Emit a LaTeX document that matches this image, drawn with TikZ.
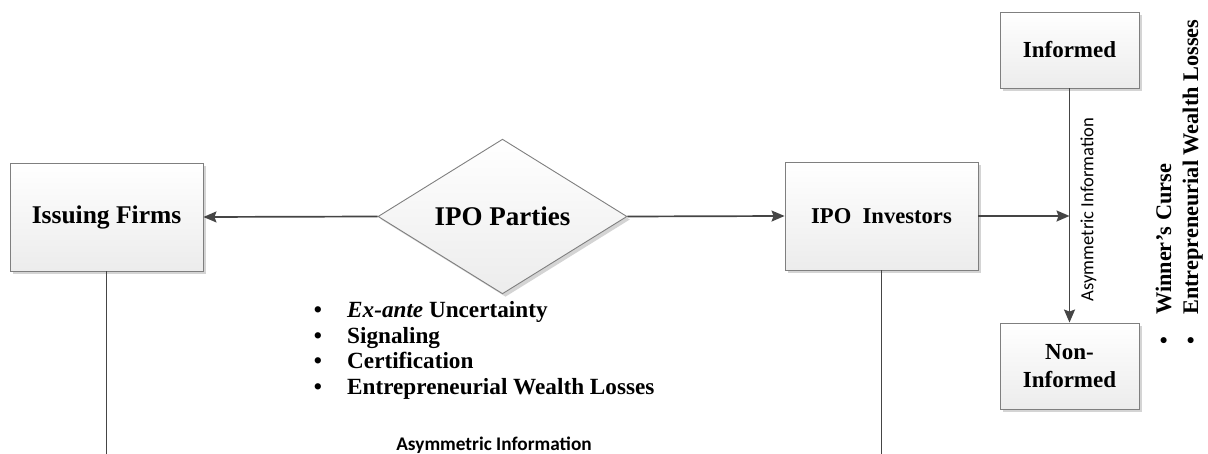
\documentclass[tikz,border=0pt]{standalone}
\usepackage{fontspec}
\setmainfont{Liberation Serif}
\newfontfamily\labelfont{Carlito}
\usetikzlibrary{arrows.meta,shapes.geometric,shadows,calc}

\definecolor{edgegray}{HTML}{7F7F7F}
\definecolor{fillbottom}{HTML}{ECECEC}
\definecolor{shadowgray}{HTML}{D4D4D4}
\definecolor{linkgray}{HTML}{454545}

\newcommand{\fsz}[1]{\fontsize{#1pt}{1.15\dimexpr #1pt\relax}\selectfont}

\tikzset{
  shaded/.style={draw=edgegray, line width=0.9pt, top color=white, bottom color=fillbottom,
    drop shadow={shadow xshift=3pt, shadow yshift=-3pt, fill=shadowgray, opacity=1}},
  boxnode/.style={shaded, rectangle, inner sep=0pt, align=center,
    font=\bfseries\fsz{23}},
  link/.style={draw=linkgray, line width=1.7pt},
  arrowlink/.style={link, -{Stealth[length=13pt, width=11pt, inset=2pt]}},
  itemtext/.style={anchor=base west, inner sep=0pt, font=\bfseries\fsz{23.2}},
  itembullet/.style={anchor=base, inner sep=0pt, font=\bfseries\fsz{23.2}},
  sidetext/.style={rotate=90, anchor=base west, inner sep=0pt, font=\bfseries\fsz{22.3}},
  sidebullet/.style={rotate=90, anchor=base, inner sep=0pt, font=\bfseries\fsz{22.3}},
}

\begin{document}
\begin{tikzpicture}[x=1pt, y=-1pt]
\useasboundingbox (0,0) rectangle (1208,454);

% main parties
\node[boxnode, minimum width=193pt, minimum height=108pt, font=\bfseries\fsz{25.5}]
  (issuing) at (106.5,217) {Issuing Firms};
\node[shaded, diamond, inner sep=0pt, minimum width=249pt, minimum height=127pt,
  font=\bfseries\fsz{27}] (parties) at (502.5,216.5) {IPO Parties};
\node[boxnode, minimum width=193pt, minimum height=108pt, font=\bfseries\fsz{22.6}]
  (investors) at (881.5,216) {IPO\ \ Investors};

% investor classes
\node[boxnode, minimum width=139pt, minimum height=76pt] (informed) at (1069.5,50) {Informed};
\node[boxnode, minimum width=139pt, minimum height=86pt] (noninformed) at (1069.5,366)
  {Non-\\[1pt]Informed};

% connectors
\draw[arrowlink] (parties.west) -- (issuing.east);
\draw[arrowlink] (parties.east) -- (investors.west);
\draw[arrowlink] (informed.south) -- (noninformed.north);
\coordinate (junction) at (1069.5,216);
\draw[arrowlink] (investors.east) -- (junction);

% information gap between firms and investors
\coordinate (lowleft) at (106.5,455.5);
\coordinate (lowright) at (881.5,455.5);
\draw[link] (issuing.south) -- (lowleft) -- (lowright) -- (investors.south);
\node[fill=white, inner sep=0pt, anchor=base, font=\labelfont\bfseries\fsz{19.3}]
  (gaplabel) at ($(lowleft)!0.5!(lowright)+(0,-5)$) {Asymmetric Information};

\node[rotate=90, inner sep=0pt, font=\labelfont\fsz{18.6}]
  (sidelabel) at (1088.5,209.5) {Asymmetric Information};

% issues in the middle
\node[itembullet] (b1) at (318,318) {\textbullet};
\node[itemtext] (t1) at (347,318) {\textit{Ex-ante} Uncertainty};
\node[itembullet] (b2) at (318,343.5) {\textbullet};
\node[itemtext] (t2) at (347,343.5) {Signaling};
\node[itembullet] (b3) at (318,369) {\textbullet};
\node[itemtext] (t3) at (347,369) {Certification};
\node[itembullet] (b4) at (318,394.5) {\textbullet};
\node[itemtext] (t4) at (347,394.5) {Entrepreneurial Wealth Losses};

% issues on the right, set vertically
\node[sidebullet] (s1) at (1171,341) {\textbullet};
\node[sidetext] (w1) at (1171,315) {Winner’s Curse};
\node[sidebullet] (s2) at (1198,341) {\textbullet};
\node[sidetext] (w2) at (1198,315) {Entrepreneurial Wealth Losses};
\end{tikzpicture}
\end{document}
